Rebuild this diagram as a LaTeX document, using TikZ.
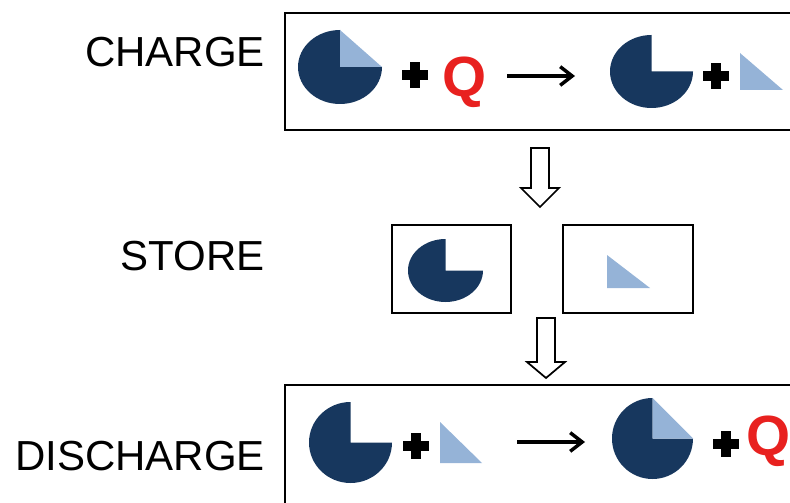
\documentclass[tikz,border=0pt]{standalone}
\usepackage{fontspec}
\setmainfont{Liberation Sans}
\usetikzlibrary{arrows.meta}
\definecolor{navy}{HTML}{17375E}
\definecolor{lightb}{HTML}{95B3D7}
\definecolor{qred}{HTML}{E8211F}
% pie: #1 cx, #2 cy, #3 rx, #4 ry, #5 = 1 draws the light wedge
\newcommand\pacpie[5]{%
  \fill[navy] (#1,#2) -- ++(0,-#4) arc[start angle=270,end angle=0,x radius=#3,y radius=#4] -- cycle;
  \ifnum#5=1 \fill[lightb] (#1,#2) -- ++(0,-#4) -- ++(#3,#4) -- cycle;\fi
}
\newcommand\wedgetri[4]{\fill[lightb] (#1,#2) -- (#1,#4) -- (#3,#4) -- cycle;}
\newcommand\plussign[2]{%
  \fill[black] (#1,#2) ++(-13,-5) rectangle ++(26,10);
  \fill[black] (#1,#2) ++(-5,-13) rectangle ++(10,26);
}
\begin{document}
\begin{tikzpicture}[x=0.75pt,y=-0.75pt,
  lbl/.style={anchor=base east,inner sep=0pt,font=\fontsize{31.5}{36}\selectfont},
  qlbl/.style={anchor=base west,inner sep=0pt,text=qred,font=\fontsize{42.5}{46}\selectfont\bfseries},
  frame/.style={draw=black,line width=1.8pt},
  blockarrow/.style={draw=black,line width=1.3pt,fill=white,line join=miter},
  react/.style={line width=2.6pt,-{Straight Barb[length=9pt,width=14pt,line width=2.6pt]}}]
\useasboundingbox (0,0) rectangle (790,503);
\clip (0,0) rectangle (790,503);
% labels
\node[lbl] (lcharge) at (265,67) {CHARGE};
\node[lbl] (lstore) at (265,270) {STORE};
\node[lbl] (ldischarge) at (265,470) {DISCHARGE};
% frames
\draw[frame] (285,13) rectangle (810,130);
\draw[frame] (392,225) rectangle (511,313);
\draw[frame] (563,225) rectangle (693,313);
\draw[frame] (285,385) rectangle (810,520);
% block arrows
\draw[blockarrow] (531,148) -- (549,148) -- (549,188) -- (559,188) -- (540,207) -- (521,188) -- (531,188) -- cycle;
\draw[blockarrow] (537,318) -- (555,318) -- (555,362) -- (565,362) -- (546,378) -- (527,362) -- (537,362) -- cycle;
% charge row
\pacpie{340}{67}{42}{37}{1}
\plussign{415}{75}
\node[qlbl] (q1) at (442,97) {Q};
\coordinate (a1s) at (507,76);
\coordinate (a1e) at (575,76);
\draw[react] (a1s) -- (a1e);
\pacpie{651.5}{71.5}{41.5}{36.5}{0}
\plussign{716}{76}
\wedgetri{740}{53}{783}{90}
% store row
\pacpie{445.5}{270.5}{37.5}{31.5}{0}
\wedgetri{607}{255}{650}{288}
% discharge row
\pacpie{350.5}{442.5}{41.5}{40.5}{0}
\plussign{415.5}{446}
\wedgetri{440}{422}{482}{463}
\coordinate (a2s) at (517,442);
\coordinate (a2e) at (585,442);
\draw[react] (a2s) -- (a2e);
\pacpie{652.5}{438.5}{40.5}{40.5}{1}
\plussign{726}{444}
\node[qlbl] (q2) at (746,455) {Q};
\end{tikzpicture}
\end{document}
